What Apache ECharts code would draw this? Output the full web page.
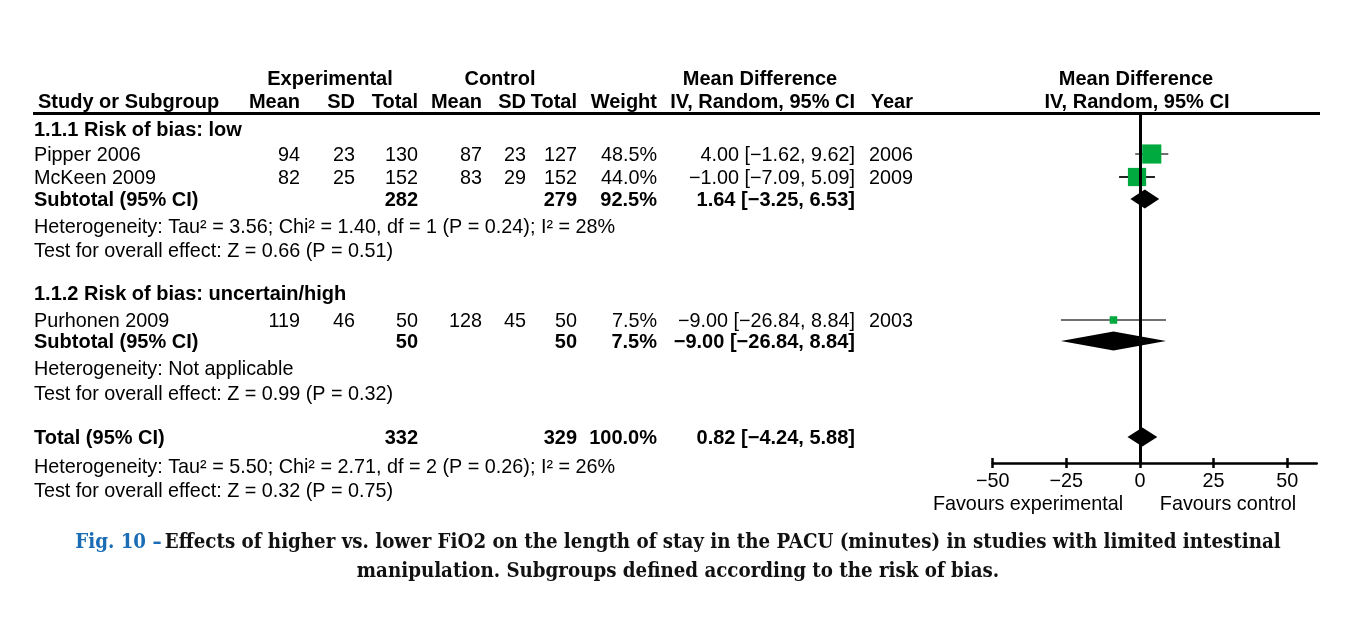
<!DOCTYPE html>
<html>
<head>
<meta charset="utf-8">
<script src="https://cdn.jsdelivr.net/npm/echarts@6/dist/echarts.min.js"></script>
<style>
html,body{margin:0;padding:0;background:#fff;}
#chart{width:1360px;height:641px;}
</style>
</head>
<body>
<div id="chart"></div>
<script>
// ---------- data ----------
const studies = ['Pipper 2006', 'McKeen 2009', 'Purhonen 2009'];
const studyGroup = [0, 0, 1];
const expMean = [94, 82, 119];
const expSD = [23, 25, 46];
const expN = [130, 152, 50];
const ctlMean = [87, 83, 128];
const ctlSD = [23, 29, 45];
const ctlN = [127, 152, 50];
const weights = [48.5, 44.0, 7.5];
const md = [4.00, -1.00, -9.00];
const ciLo = [-1.62, -7.09, -26.84];
const ciHi = [9.62, 5.09, 8.84];
const years = [2006, 2009, 2003];

const subgroupNames = ['1.1.1 Risk of bias: low', '1.1.2 Risk of bias: uncertain/high'];
const subExpN = [282, 50];
const subCtlN = [279, 50];
const subWeight = [92.5, 7.5];
const subMd = [1.64, -9.00];
const subLo = [-3.25, -26.84];
const subHi = [6.53, 8.84];
const subHet = ['Heterogeneity: Tau² = 3.56; Chi² = 1.40, df = 1 (P = 0.24); I² = 28%',
                'Heterogeneity: Not applicable'];
const subTest = ['Test for overall effect: Z = 0.66 (P = 0.51)',
                 'Test for overall effect: Z = 0.99 (P = 0.32)'];

const totalExpN = 332, totalCtlN = 329, totalWeight = 100.0;
const totalMd = 0.82, totalLo = -4.24, totalHi = 5.88;
const totalHet = 'Heterogeneity: Tau² = 5.50; Chi² = 2.71, df = 2 (P = 0.26); I² = 26%';
const totalTest = 'Test for overall effect: Z = 0.32 (P = 0.75)';

const xTicks = [-50, -25, 0, 25, 50];
const favourLabels = ['Favours experimental', 'Favours control'];
const captionLead = 'Fig. 10 –';
const captionLine1 = 'Effects of higher vs. lower FiO2 on the length of stay in the PACU (minutes) in studies with limited intestinal';
const captionLine2 = 'manipulation. Subgroups defined according to the risk of bias.';

// ---------- layout (pixel rows / columns) ----------
const L = {
  plotTop: 112, plotBottom: 463,
  subHeadY: [129, 293], studyY: [154, 177, 320], subTotY: [199, 341],
  hetY: [226, 368], testY: [250, 393], totalY: 437, totHetY: 466, totTestY: 490,
  textX: 34, textDy: 1.5,
  col: {expMean: 300, expSD: 355, expN: 418, ctlMean: 482, ctlSD: 526, ctlN: 577,
        weight: 657, ci: 855, year: 913}
};
const lineColor = {'McKeen 2009': '#222'};
const FONT = '"Liberation Sans", Arial, Helvetica, sans-serif';
const REG = '19.8px ' + FONT, BOLD = 'bold 20px ' + FONT;

const fmt = v => (v < 0 ? '−' : '') + Math.abs(v).toFixed(2);
const ciText = (m, lo, hi) => fmt(m) + ' [' + fmt(lo) + ', ' + fmt(hi) + ']';
const pct = w => w.toFixed(1) + '%';

const graphics = [];
function txt(x, y, text, font, align, fill) {
  graphics.push({
    type: 'text', x: x, y: y + L.textDy, silent: true,
    style: {text: String(text), font: font, fill: fill || '#000', align: align || 'left',
            textAlign: align || 'left', verticalAlign: 'middle', textVerticalAlign: 'middle'}
  });
}

// header
txt(330, 78, 'Experimental', BOLD, 'center');
txt(500, 78, 'Control', BOLD, 'center');
txt(760, 78, 'Mean Difference', BOLD, 'center');
txt(1136, 78, 'Mean Difference', BOLD, 'center');
txt(38, 101, 'Study or Subgroup', BOLD, 'left');
txt(L.col.expMean, 101, 'Mean', BOLD, 'right');
txt(L.col.expSD, 101, 'SD', BOLD, 'right');
txt(L.col.expN, 101, 'Total', BOLD, 'right');
txt(L.col.ctlMean, 101, 'Mean', BOLD, 'right');
txt(L.col.ctlSD, 101, 'SD', BOLD, 'right');
txt(L.col.ctlN, 101, 'Total', BOLD, 'right');
txt(L.col.weight, 101, 'Weight', BOLD, 'right');
txt(L.col.ci, 101, 'IV, Random, 95% CI', BOLD, 'right');
txt(913, 101, 'Year', BOLD, 'right');
txt(1137, 101, 'IV, Random, 95% CI', BOLD, 'center');
graphics.push({type: 'line', silent: true, shape: {x1: 33, y1: 113.5, x2: 1320, y2: 113.5},
               style: {stroke: '#000', lineWidth: 3}});

// study rows
studies.forEach((s, i) => {
  const y = L.studyY[i];
  txt(L.textX, y, s, REG, 'left');
  txt(L.col.expMean, y, expMean[i], REG, 'right');
  txt(L.col.expSD, y, expSD[i], REG, 'right');
  txt(L.col.expN, y, expN[i], REG, 'right');
  txt(L.col.ctlMean, y, ctlMean[i], REG, 'right');
  txt(L.col.ctlSD, y, ctlSD[i], REG, 'right');
  txt(L.col.ctlN, y, ctlN[i], REG, 'right');
  txt(L.col.weight, y, pct(weights[i]), REG, 'right');
  txt(L.col.ci, y, ciText(md[i], ciLo[i], ciHi[i]), REG, 'right');
  txt(L.col.year, y, years[i], REG, 'right');
});
// subgroup rows
subgroupNames.forEach((g, k) => {
  txt(L.textX, L.subHeadY[k], g, BOLD, 'left');
  const y = L.subTotY[k];
  txt(L.textX, y, 'Subtotal (95% CI)', BOLD, 'left');
  txt(L.col.expN, y, subExpN[k], BOLD, 'right');
  txt(L.col.ctlN, y, subCtlN[k], BOLD, 'right');
  txt(L.col.weight, y, pct(subWeight[k]), BOLD, 'right');
  txt(L.col.ci, y, ciText(subMd[k], subLo[k], subHi[k]), BOLD, 'right');
  txt(L.textX, L.hetY[k], subHet[k], REG, 'left');
  txt(L.textX, L.testY[k], subTest[k], REG, 'left');
});
// total
txt(L.textX, L.totalY, 'Total (95% CI)', BOLD, 'left');
txt(L.col.expN, L.totalY, totalExpN, BOLD, 'right');
txt(L.col.ctlN, L.totalY, totalCtlN, BOLD, 'right');
txt(L.col.weight, L.totalY, pct(totalWeight), BOLD, 'right');
txt(L.col.ci, L.totalY, ciText(totalMd, totalLo, totalHi), BOLD, 'right');
txt(L.textX, L.totHetY, totalHet, REG, 'left');
txt(L.textX, L.totTestY, totalTest, REG, 'left');
// favours
txt(1028, 503, favourLabels[0], REG, 'center');
txt(1228, 503, favourLabels[1], REG, 'center');
// caption
const CAP = 'bold 20.3px "DejaVu Serif Condensed", "DejaVu Serif", serif';
graphics.push({
  type: 'text', x: 678, y: 542.5, silent: true,
  style: {text: '{a|' + captionLead + '} {b|' + captionLine1 + '}', align: 'center', textAlign: 'center',
          verticalAlign: 'middle', textVerticalAlign: 'middle',
          rich: {a: {font: CAP, fill: '#1a6db5', color: '#1a6db5'}, b: {font: CAP, fill: '#111', color: '#111'}}}
});
txt(678, 570, captionLine2, CAP, 'center', '#111');

// ---------- series data ----------
const studyData = studies.map((s, i) => [md[i], L.studyY[i], ciLo[i], ciHi[i], weights[i], i]);
const diamondData = subMd.map((m, k) => [m, L.subTotY[k], subLo[k], subHi[k]])
  .concat([[totalMd, L.totalY, totalLo, totalHi]]);

const chart = echarts.init(document.getElementById('chart'), null, {renderer: 'canvas'});
chart.setOption({
  animation: false,
  backgroundColor: '#fff',
  grid: {left: 992.7, right: 43.3, top: L.plotTop, bottom: 641 - L.plotBottom},
  xAxis: [{
    type: 'value', min: -50, max: 60, splitLine: {show: false},
    axisLine: {show: true, lineStyle: {color: '#000', width: 2.5}},
    axisTick: {show: true, customValues: xTicks, length: 5, lineStyle: {color: '#000', width: 2.5}},
    axisLabel: {customValues: xTicks, color: '#000', fontSize: 19.8, fontFamily: FONT, margin: 9,
                formatter: v => (v < 0 ? '−' : '') + Math.abs(v)}
  }, {
    type: 'value', min: -50, max: 60, position: 'bottom', splitLine: {show: false},
    axisLine: {show: false},
    axisTick: {show: true, inside: true, customValues: xTicks, length: 5, lineStyle: {color: '#000', width: 2.5}},
    axisLabel: {show: false}
  }],
  yAxis: {type: 'value', min: L.plotTop, max: L.plotBottom, inverse: true, show: false},
  graphic: graphics,
  series: [{
    type: 'custom', coordinateSystem: 'cartesian2d', data: studyData,
    encode: {x: [0, 2, 3], y: 1}, z: 3,
    renderItem: (params, api) => {
      const y = api.value(1);
      const c = api.coord([api.value(0), y]);
      const a = api.coord([api.value(2), y]);
      const b = api.coord([api.value(3), y]);
      const sz = 2.75 * Math.sqrt(api.value(4));
      const name = studies[api.value(5)];
      return {type: 'group', children: [
        {type: 'line', shape: {x1: a[0], y1: a[1], x2: b[0], y2: b[1]},
         style: {stroke: lineColor[name] || '#707070', lineWidth: 2}},
        {type: 'rect', shape: {x: c[0] - sz / 2, y: c[1] - sz / 2, width: sz, height: sz},
         style: {fill: '#00aa3e'}}
      ]};
    },
    markLine: {
      silent: true, symbol: 'none', label: {show: false},
      lineStyle: {color: '#000', width: 3, type: 'solid'},
      data: [{xAxis: 0}]
    }
  }, {
    type: 'custom', coordinateSystem: 'cartesian2d', data: diamondData,
    encode: {x: [0, 2, 3], y: 1}, z: 4,
    renderItem: (params, api) => {
      const y = api.value(1);
      const c = api.coord([api.value(0), y]);
      const a = api.coord([api.value(2), y]);
      const b = api.coord([api.value(3), y]);
      const h = 9.5;
      return {type: 'polygon', shape: {points: [[a[0], c[1]], [c[0], c[1] - h], [b[0], c[1]], [c[0], c[1] + h]]},
              style: {fill: '#000'}};
    }
  }]
});
</script>
</body>
</html>
